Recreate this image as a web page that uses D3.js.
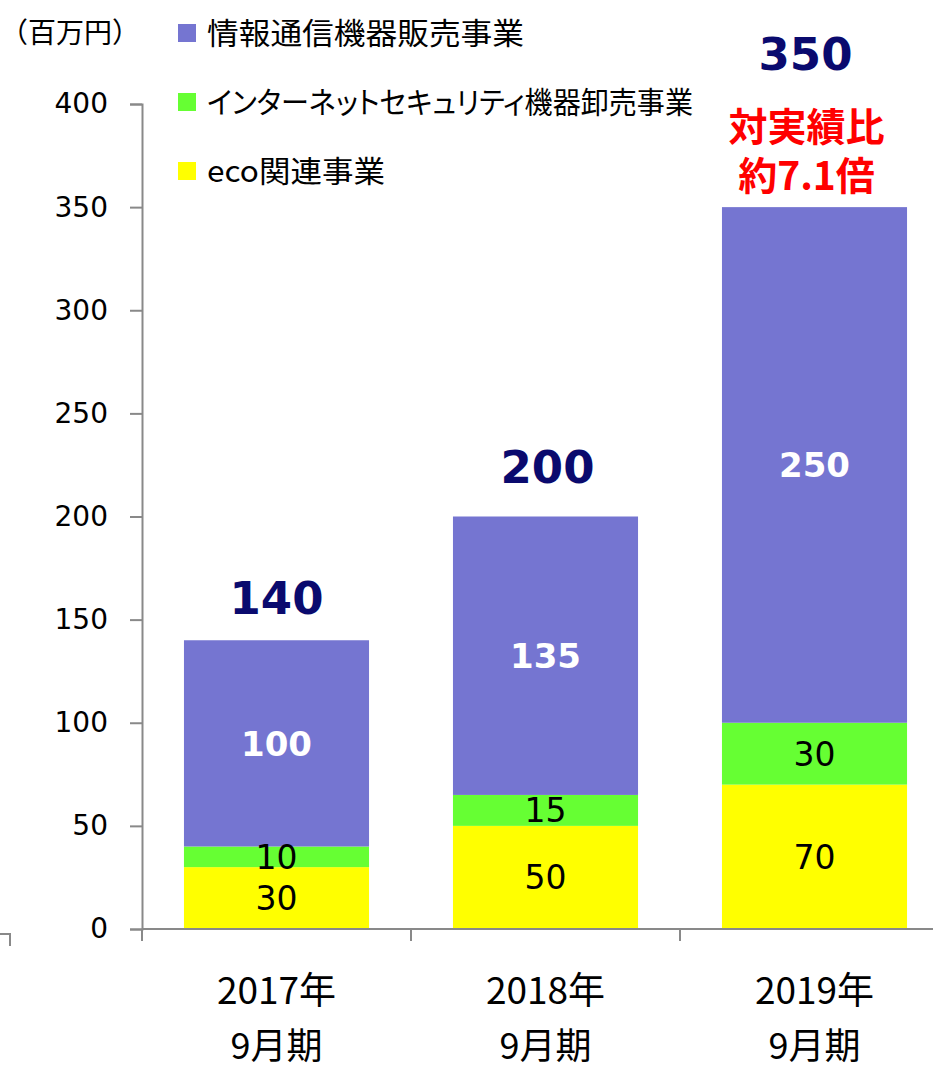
<!DOCTYPE html>
<html>
<head>
<meta charset="utf-8">
<script src="https://cdn.jsdelivr.net/npm/d3@7"></script>
<style>
  body { margin: 0; background: #fff; }
  svg { display: block; }
  .cjk { font-family: "Noto Sans CJK JP", sans-serif; font-feature-settings: "palt"; }
  .num { font-family: "DejaVu Sans", Verdana, sans-serif; }
</style>
</head>
<body>
<div id="chart"></div>
<script>
// data
var years = ["2017年", "2018年", "2019年"];
var periods = ["9月期", "9月期", "9月期"];
var seriesNames = ["eco関連事業", "インターネットセキュリティ機器卸売事業", "情報通信機器販売事業"];
var ecoValues = [30, 50, 70];
var netSecValues = [10, 15, 30];
var infoValues = [100, 135, 250];
var totals = [140, 200, 350];
var yTicks = [0, 50, 100, 150, 200, 250, 300, 350, 400];
var unitLabel = "（百万円）";
var noteLines = ["対実績比", "約7.1倍"];

var colors = ["#ffff00", "#66ff33", "#7575d1"];
var labelColors = ["#000", "#000", "#fff"];
var labelWeights = ["normal", "normal", "bold"];
var totalLift = [26, 34, 137]; // gap between bar top and total label baseline
var totalShift = [0, 2, -9];

var width = 933, height = 1068;
var margin = {top: 104, left: 142, bottom: 139};

var svg = d3.select("#chart").append("svg")
    .attr("width", width)
    .attr("height", height);

// scales
var x = d3.scaleBand()
    .domain(years)
    .range([margin.left, margin.left + 269 * 3])
    .paddingInner(0.312)
    .paddingOuter(0.156);

var y = d3.scaleLinear()
    .domain([0, 400])
    .range([height - margin.bottom, margin.top]);

// stack the series
var table = years.map(function(yr, i) {
  return {year: yr, eco: ecoValues[i], net: netSecValues[i], info: infoValues[i]};
});
var stack = d3.stack().keys(["eco", "net", "info"]);
var layers = stack(table);

var layer = svg.selectAll("g.layer")
    .data(layers)
  .enter().append("g")
    .attr("class", "layer")
    .attr("fill", function(d, i) { return colors[i]; });

layer.selectAll("rect")
    .data(function(d) { return d; })
  .enter().append("rect")
    .attr("x", function(d) { return x(d.data.year); })
    .attr("width", x.bandwidth())
    .attr("y", function(d) { return y(d[1]); })
    .attr("height", function(d) { return y(d[0]) - y(d[1]); });

// segment labels
layers.forEach(function(l, li) {
  svg.selectAll(null)
      .data(l)
    .enter().append("text")
      .attr("class", "num")
      .attr("x", function(d) { return x(d.data.year) + x.bandwidth() / 2; })
      .attr("y", function(d) { return (y(d[0]) + y(d[1])) / 2; })
      .attr("dy", "0.36em")
      .attr("text-anchor", "middle")
      .style("font-size", li == 2 ? "34px" : "33px")
      .style("font-weight", labelWeights[li])
      .style("fill", labelColors[li])
      .text(function(d) { return d[1] - d[0]; });
});

// totals
svg.selectAll("text.total")
    .data(totals)
  .enter().append("text")
    .attr("class", "total num")
    .attr("x", function(d, i) { return x(years[i]) + x.bandwidth() / 2 + totalShift[i]; })
    .attr("y", function(d, i) { return y(d) - totalLift[i]; })
    .attr("text-anchor", "middle")
    .style("font-size", "45px")
    .style("font-weight", "bold")
    .style("fill", "#0a0a6e")
    .text(function(d) { return d; });

// red note above the last bar
svg.selectAll("text.note")
    .data(noteLines)
  .enter().append("text")
    .attr("class", "note cjk")
    .attr("x", x(years[2]) + x.bandwidth() / 2 - 8)
    .attr("y", function(d, i) { return y(totals[2]) - 66 + i * 49; })
    .attr("text-anchor", "middle")
    .style("font-size", "39px")
    .style("font-weight", "bold")
    .style("fill", "#ff0000")
    .text(function(d) { return d; });

// y axis
var yAxis = svg.append("g")
    .attr("transform", "translate(" + margin.left + ",0)")
    .call(d3.axisLeft(y).tickValues(yTicks).tickSize(12).tickPadding(22));
yAxis.selectAll("text")
    .attr("class", "num")
    .style("font-size", "28px")
    .style("fill", "#000");

// x axis with ticks at the category boundaries
var xAxis = svg.append("g")
    .attr("transform", "translate(0," + y(0) + ")");
xAxis.append("line")
    .attr("x1", margin.left).attr("x2", width)
    .attr("stroke", "#898989").attr("stroke-width", 2);
xAxis.selectAll("line.tick")
    .data(years)
  .enter().append("line")
    .attr("class", "tick")
    .attr("x1", function(d) { return x(d) - x.step() * 0.156; })
    .attr("x2", function(d) { return x(d) - x.step() * 0.156; })
    .attr("y1", 0).attr("y2", 12)
    .attr("stroke", "#898989").attr("stroke-width", 2);

svg.selectAll(".domain, .tick line").attr("stroke", "#898989").attr("stroke-width", 2);

// category labels
svg.selectAll("text.year")
    .data(years)
  .enter().append("text")
    .attr("class", "year cjk")
    .attr("x", function(d) { return x(d) + x.bandwidth() / 2; })
    .attr("y", y(0) + 75)
    .attr("text-anchor", "middle")
    .style("font-size", "37px")
    .text(function(d) { return d; });

svg.selectAll("text.period")
    .data(periods)
  .enter().append("text")
    .attr("class", "period cjk")
    .attr("x", function(d, i) { return x(years[i]) + x.bandwidth() / 2; })
    .attr("y", y(0) + 130)
    .attr("text-anchor", "middle")
    .style("font-size", "36px")
    .text(function(d) { return d; });

// unit label
svg.append("text")
    .attr("x", 0)
    .attr("y", 43)
    .style("font-family", "'Noto Sans CJK JP', sans-serif")
    .style("font-size", "28px")
    .text(unitLabel);

// legend (top entry is the top series)
var legendOrder = [2, 1, 0];
var legendWidths = [317, 486, 178];
var legend = svg.selectAll("g.legend")
    .data(legendOrder)
  .enter().append("g")
    .attr("class", "legend")
    .attr("transform", function(d, i) { return "translate(178," + (24 + i * 69) + ")"; });

legend.append("rect")
    .attr("width", 18).attr("height", 18)
    .attr("fill", function(d) { return colors[d]; });

legend.append("text")
    .attr("class", "cjk")
    .attr("x", 29)
    .attr("y", 9)
    .attr("dy", "0.36em")
    .attr("textLength", function(d, i) { return legendWidths[i]; })
    .attr("lengthAdjust", "spacingAndGlyphs")
    .style("font-size", "30px")
    .text(function(d) { return seriesNames[d]; });

// small stray bracket at the lower left
svg.append("path")
    .attr("d", "M0,934H10V946")
    .attr("fill", "none")
    .attr("stroke", "#898989")
    .attr("stroke-width", 2);
</script>
</body>
</html>
